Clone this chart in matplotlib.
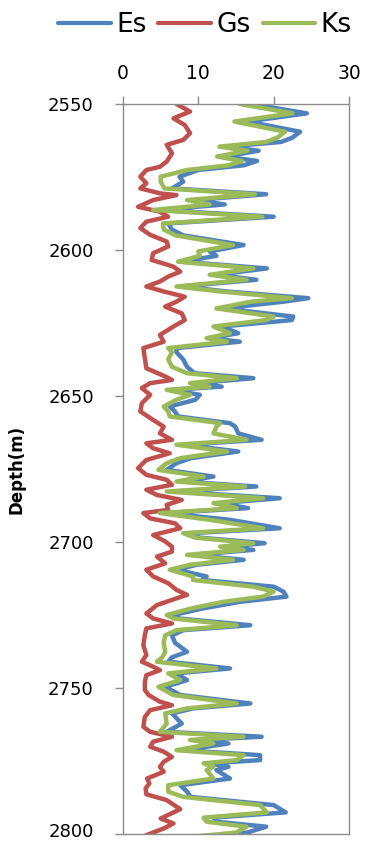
import matplotlib
matplotlib.use("Agg")
import matplotlib.pyplot as plt
from matplotlib.transforms import ScaledTranslation

# ---- data ----
depth_ek = [2550.0, 2553.2, 2556.0, 2559.5, 2561.5, 2563.0, 2564.6, 2566.0, 2568.0, 2569.5,
            2571.0, 2572.6, 2574.9, 2576.6, 2578.9, 2580.9, 2582.9, 2584.4, 2586.3, 2588.6,
            2590.9, 2593.0, 2595.0, 2598.3, 2600.5, 2602.0, 2604.0, 2606.3, 2608.5, 2610.2,
            2612.5, 2614.2, 2616.5, 2617.7, 2620.0, 2622.8, 2624.0, 2626.2, 2628.5, 2630.2,
            2631.4, 2633.6, 2635.0, 2637.5, 2640.0, 2642.2, 2643.9, 2645.6, 2646.8, 2647.9,
            2649.6, 2651.3, 2653.6, 2655.3, 2657.0, 2659.3, 2660.5, 2662.8, 2665.0, 2666.7,
            2669.0, 2671.3, 2673.0, 2675.3, 2677.6, 2679.3, 2681.0, 2682.7, 2685.0, 2686.7,
            2688.4, 2690.1, 2692.4, 2695.3, 2697.0, 2698.5, 2700.4, 2701.6, 2702.7, 2704.4,
            2706.1, 2707.8, 2709.5, 2711.8, 2713.0, 2715.3, 2717.0, 2718.7, 2720.5, 2722.8,
            2725.0, 2726.2, 2728.5, 2730.2, 2732.0, 2734.5, 2737.6, 2739.5, 2741.0, 2743.3,
            2745.0, 2747.3, 2749.6, 2752.4, 2755.3, 2757.0, 2758.7, 2762.2, 2765.0, 2766.7,
            2767.8, 2769.0, 2771.3, 2773.0, 2774.7, 2775.8, 2777.0, 2778.1, 2781.0, 2783.3,
            2785.5, 2787.3, 2790.1, 2792.6, 2794.4, 2795.8, 2797.5, 2799.5, 2801.5]

ks = [15.5, 22.5, 14.8, 21.5, 20.5, 19.0, 12.8, 16.5, 12.5, 15.8,
      14.0, 8.5, 5.0, 5.0, 5.5, 17.5, 8.5, 11.5, 4.0, 18.5,
      5.3, 5.4, 7.0, 14.6, 10.0, 10.2, 7.3, 17.3, 11.5, 16.4,
      7.1, 12.9, 22.4, 17.0, 12.4, 20.0, 19.0, 12.0, 14.2, 11.1,
      13.8, 6.0, 6.5, 6.0, 6.5, 8.5, 15.1, 8.9, 11.5, 5.8,
      8.9, 7.1, 5.4, 6.0, 6.2, 12.9, 12.4, 12.0, 16.4, 7.1,
      13.8, 7.6, 5.8, 4.7, 10.7, 7.1, 16.2, 5.8, 18.6, 12.0,
      15.1, 4.9, 11.5, 18.6, 8.0, 9.6, 17.3, 12.9, 16.0, 8.5,
      14.6, 8.9, 6.2, 9.3, 9.3, 17.3, 20.0, 18.6, 13.3, 9.0,
      5.8, 6.7, 15.1, 7.1, 5.6, 5.4, 5.6, 5.2, 4.5, 12.4,
      6.0, 7.6, 4.7, 6.7, 15.1, 8.5, 5.6, 5.8, 4.9, 16.0,
      8.9, 12.0, 7.1, 16.0, 15.1, 10.7, 12.0, 11.1, 12.0, 6.0,
      6.0, 8.0, 18.2, 19.1, 10.7, 11.1, 16.4, 15.0, 7.0]

es = [17.0, 24.4, 16.5, 23.5, 22.5, 21.0, 13.8, 18.0, 13.5, 17.8,
      16.0, 10.0, 7.5, 8.0, 6.5, 19.0, 9.5, 13.5, 4.8, 20.0,
      6.0, 6.5, 8.0, 16.0, 11.5, 12.4, 7.8, 19.1, 12.4, 17.7,
      7.8, 13.8, 24.6, 21.3, 13.3, 22.6, 22.4, 13.1, 15.3, 11.5,
      15.5, 7.1, 7.1, 8.0, 8.5, 9.5, 17.3, 9.8, 13.1, 6.5,
      10.2, 9.6, 6.2, 6.9, 7.3, 14.2, 14.9, 15.3, 18.4, 8.0,
      15.3, 9.0, 7.1, 5.8, 12.0, 8.0, 17.7, 6.7, 20.8, 12.9,
      16.6, 5.6, 14.2, 20.8, 8.9, 10.2, 18.8, 13.8, 17.3, 9.3,
      16.0, 9.8, 7.1, 11.1, 10.5, 20.0, 21.3, 21.7, 15.5, 10.5,
      6.7, 7.5, 16.9, 8.0, 6.5, 6.9, 8.5, 6.5, 6.0, 14.2,
      7.1, 8.5, 5.6, 7.6, 16.9, 9.3, 6.5, 7.8, 5.8, 18.4,
      9.8, 14.0, 8.0, 18.2, 18.2, 11.5, 14.0, 12.4, 14.2, 7.6,
      8.5, 9.0, 20.0, 21.6, 12.0, 12.4, 19.0, 16.5, 8.0]

depth_g = [2550.0, 2552.6, 2554.9, 2557.2, 2560.0, 2562.3, 2564.0, 2566.9, 2569.7, 2571.5,
           2572.6, 2574.9, 2577.2, 2578.9, 2580.6, 2581.2, 2582.9, 2585.2, 2586.9, 2588.6,
           2590.3, 2592.5, 2594.8, 2597.1, 2598.8, 2601.1, 2603.4, 2605.7, 2607.4, 2609.1,
           2610.8, 2612.5, 2614.2, 2616.0, 2617.7, 2619.4, 2621.7, 2624.0, 2626.2, 2629.1,
           2631.4, 2633.6, 2637.1, 2640.5, 2643.3, 2644.5, 2645.6, 2647.3, 2649.6, 2652.5,
           2655.3, 2658.2, 2660.5, 2662.8, 2665.0, 2666.2, 2667.9, 2669.6, 2671.9, 2674.7,
           2677.0, 2678.7, 2680.4, 2682.1, 2683.9, 2685.6, 2687.3, 2689.0, 2690.1, 2691.9,
           2693.6, 2695.3, 2697.6, 2699.8, 2701.6, 2703.3, 2705.0, 2707.3, 2709.5, 2711.8,
           2714.1, 2716.4, 2718.1, 2719.3, 2721.6, 2724.5, 2726.2, 2727.9, 2729.6, 2731.9,
           2735.3, 2738.7, 2741.0, 2742.7, 2743.9, 2745.6, 2747.9, 2750.7, 2752.4, 2754.7,
           2755.9, 2757.6, 2759.9, 2763.3, 2765.0, 2766.7, 2768.4, 2770.1, 2771.8, 2773.6,
           2775.3, 2777.0, 2778.7, 2781.0, 2782.7, 2784.4, 2786.4, 2788.4, 2791.5, 2794.7,
           2796.4, 2798.1, 2800.5]

gs = [7.1, 8.9, 6.7, 8.2, 8.9, 8.0, 5.8, 6.5, 5.8, 4.9,
      3.1, 2.3, 3.1, 2.3, 4.9, 7.1, 4.0, 2.0, 4.9, 6.0,
      3.1, 2.3, 3.6, 5.8, 6.0, 4.0, 3.8, 6.7, 7.6, 6.0,
      4.9, 3.1, 5.4, 8.2, 7.1, 5.6, 7.8, 8.2, 6.7, 4.9,
      5.4, 2.7, 2.9, 3.1, 5.6, 6.5, 3.6, 2.5, 3.6, 2.5,
      2.3, 4.0, 5.4, 4.9, 6.5, 3.1, 4.0, 6.2, 3.1, 2.0,
      3.1, 5.8, 6.5, 3.1, 4.5, 7.8, 5.8, 6.0, 2.7, 3.6,
      6.9, 7.6, 4.0, 5.6, 6.5, 6.5, 4.5, 5.6, 3.1, 4.0,
      6.0, 7.1, 8.5, 7.1, 4.5, 3.1, 4.0, 6.5, 3.1, 2.9,
      2.7, 3.1, 2.5, 4.0, 4.9, 3.1, 2.9, 2.9, 3.4, 4.9,
      6.5, 3.6, 2.9, 2.7, 3.6, 6.5, 4.0, 3.6, 5.4, 6.5,
      5.4, 4.9, 5.4, 3.2, 3.5, 3.0, 3.1, 5.8, 7.6, 5.0,
      6.7, 5.4, 3.0]

x_ticks = [0, 10, 20, 30]
y_ticks = [2550, 2600, 2650, 2700, 2750, 2800]
series_names = ["Es", "Gs", "Ks"]

# ---- figure ----
W, H = 365, 841
fig = plt.figure(figsize=(W / 100, H / 100), dpi=100)
ax = fig.add_axes([123 / W, (H - 834) / H, 226 / W, 730 / H])

c_es, c_gs, c_ks = "#4F81BD", "#C0504D", "#9BBB59"
lw = 3.2
l1, = ax.plot(es, depth_ek, color=c_es, lw=lw, solid_joinstyle="round",
              solid_capstyle="round", label=series_names[0])
l2, = ax.plot(gs, depth_g, color=c_gs, lw=lw, solid_joinstyle="round",
              solid_capstyle="round", label=series_names[1])
l3, = ax.plot(ks, depth_ek, color=c_ks, lw=lw, solid_joinstyle="round",
              solid_capstyle="round", label=series_names[2])

ax.set_xlim(0, 30)
ax.set_ylim(2800, 2550)
ax.set_xticks(x_ticks)
ax.set_yticks(y_ticks)
ax.xaxis.tick_top()

spine_c = "#8C8C8C"
for s in ax.spines.values():
    s.set_color(spine_c)
    s.set_linewidth(1.0)

ax.tick_params(axis="x", direction="out", length=6, width=1, color=spine_c,
               labelsize=13.5, pad=9, top=True, bottom=False)
ax.tick_params(axis="y", direction="out", length=6, width=1, color=spine_c,
               labelsize=13, pad=15)

ax.set_ylabel("Depth(m)", fontsize=12, fontweight="bold")
ax.yaxis.set_label_coords(-0.43, 0.5)

leg = fig.legend(handles=[l1, l2, l3], loc="center", bbox_to_anchor=(205 / W, 1 - 25 / H),
                 ncol=3, frameon=False, fontsize=19, handlelength=2.0, handletextpad=0.2,
                 columnspacing=0.45, borderaxespad=0)
for h in leg.get_lines():
    h.set_linewidth(3.0)

# keep the bottom tick label ("2800") inside the canvas
fig.canvas.draw()
last = ax.yaxis.get_major_ticks()[-1].label1
last.set_transform(last.get_transform() + ScaledTranslation(0, 4 / 100, fig.dpi_scale_trans))

fig.savefig("out.png", dpi=100)
